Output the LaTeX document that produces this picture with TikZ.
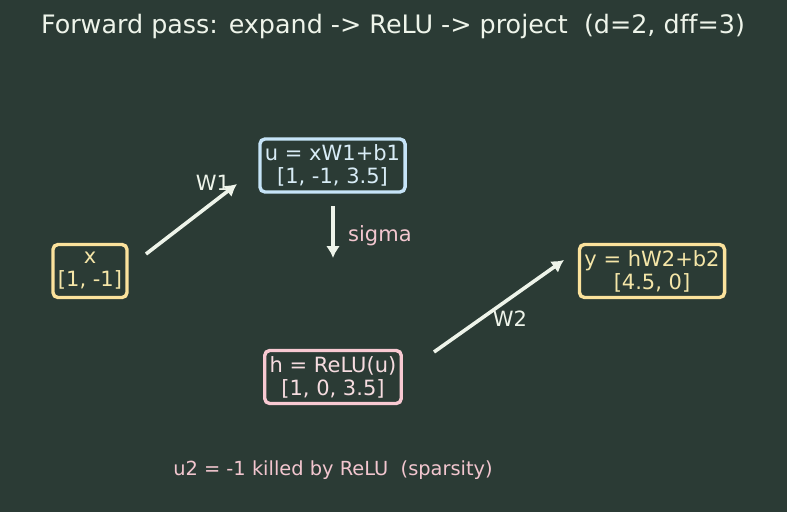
\documentclass[tikz,border=0pt]{standalone}
\usepackage{fontspec}
\setmainfont{DejaVu Sans}[Ligatures=NoCommon]
\usepackage{tikz}
\usetikzlibrary{arrows.meta, positioning}
\definecolor{ffBg}{HTML}{2B3B35}
\definecolor{ffInk}{HTML}{EEF4EA}
\definecolor{ffIn}{HTML}{FBE29C}
\definecolor{ffInTxt}{HTML}{F5E6A8}
\definecolor{ffHid}{HTML}{C6E4F8}
\definecolor{ffHidTxt}{HTML}{D8ECF6}
\definecolor{ffAct}{HTML}{F8C9D2}
\definecolor{ffActTxt}{HTML}{F6DCE0}
\definecolor{ffNote}{HTML}{F2C6CF}
\tikzset{
  ffbox/.style={
    draw, line width=3.4pt, rounded corners=5pt, inner xsep=5pt, inner ysep=2pt,
    minimum height=53pt, align=center, font=\fontsize{21}{23}\selectfont
  },
  inbox/.style={ffbox, draw=ffIn, text=ffInTxt},
  hidbox/.style={ffbox, draw=ffHid, text=ffHidTxt},
  actbox/.style={ffbox, draw=ffAct, text=ffActTxt},
  flow/.style={-{Latex[length=12pt, width=14pt]}, line width=3.6pt, ffInk},
  wlabel/.style={font=\fontsize{21}{23}\selectfont, text=ffInk, inner sep=0pt},
  title/.style={font=\fontsize{25.4}{28}\selectfont, text=ffInk, inner sep=0pt},
  note/.style={font=\fontsize{19.4}{22}\selectfont, text=ffNote, inner sep=0pt}
}
\begin{document}
\begin{tikzpicture}[x=1pt, y=-1pt]
  \fill[ffBg] (0,0) rectangle (787,512);
  \useasboundingbox (0,0) rectangle (787,512);
  \node[title] (head) at (393,26) {Forward pass: expand -> ReLU -> project \ (d=2, dff=3)};
  \node[inbox] (x) at (90,271) {x\\{}[1, -1]};
  \node[hidbox] (u) at (332.5,165.5) {u = xW1+b1\\{}[1, -1, 3.5]};
  \node[actbox] (h) at (333,377) {h = ReLU(u)\\{}[1, 0, 3.5]};
  \node[inbox] (y) at (652,271) {y = hW2+b2\\{}[4.5, 0]};
  \coordinate (w1a) at (146,254);
  \coordinate (w1b) at (237,184);
  \coordinate (siga) at (333,206);
  \coordinate (sigb) at (333,258);
  \coordinate (w2a) at (434,352);
  \coordinate (w2b) at (564,260);
  \draw[flow] (w1a) -- (w1b);
  \draw[flow] (siga) -- (sigb);
  \draw[flow] (w2a) -- (w2b);
  \node[wlabel] (w1lab) at (213,183) {W1};
  \node[wlabel, text=ffNote, anchor=west] (siglab) at (348,236) {sigma};
  \node[wlabel] (w2lab) at (510,319) {W2};
  \node[note] (sparse) at (333,470) {u2 = -1 killed by ReLU \ (sparsity)};
\end{tikzpicture}
\end{document}
